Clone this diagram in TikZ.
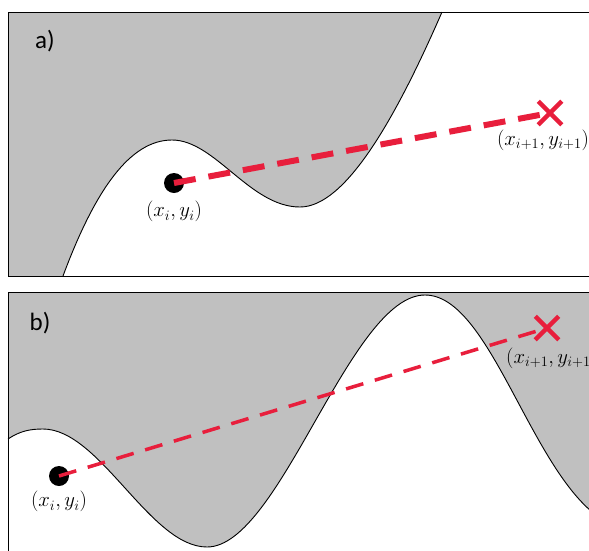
\documentclass[tikz,border=0pt]{standalone}
\usepackage{fontspec}
\newfontfamily\panelfont{Carlito}
\usetikzlibrary{shapes.misc,positioning}

\definecolor{trackred}{RGB}{232,30,60}
\definecolor{wallgray}{RGB}{192,192,192}

\begin{document}
\begin{tikzpicture}[
  x=1pt, y=-1pt,
  frame/.style={draw=black, line width=0.9pt},
  wall/.style={fill=wallgray},
  edge/.style={draw=black, line width=0.9pt},
  point/.style={circle, fill=black, minimum size=20pt, inner sep=0pt},
  target/.style={cross out, draw=trackred, line width=4.5pt, minimum size=19pt, inner sep=0pt},
  ray/.style={draw=trackred, line width=#1},
  coord/.style={font=\fontsize{20}{24}\selectfont, inner sep=1pt},
  tag/.style={font=\panelfont\fontsize{25}{29}\selectfont}
]
\useasboundingbox (0,0) rectangle (589,550);

% panel a)
\fill[white] (8,12) rectangle (600,276);
\fill[wall] (63,276) .. controls (95,190) and (130,140) .. (172,140)
  .. controls (215,140) and (250,207) .. (300,207)
  .. controls (345,207) and (395,120) .. (442,12)
  -- (8,12) -- (8,276) -- cycle;
\draw[edge] (63,276) .. controls (95,190) and (130,140) .. (172,140)
  .. controls (215,140) and (250,207) .. (300,207)
  .. controls (345,207) and (395,120) .. (442,12);
\draw[frame] (8,12) rectangle (600,276);
\node[tag] (taga) at (45,41) {a)};

\node[point] (pa) at (174,183) {};
\node[target] (qa) at (550,113) {};
\draw[ray=6pt, dash pattern=on 22pt off 13pt] (pa.center) -- (qa.center);
\node[coord, below=7pt of pa] (pla) {$(x_i,y_i)$};
\node[coord, below=4pt of qa, xshift=-7pt] (qla) {$(x_{i+1},y_{i+1})$};

% panel b)
\fill[white] (8,292) rectangle (600,560);
\fill[wall] (8,439) .. controls (20,431) and (30,429) .. (43,429)
  .. controls (100,429) and (150,547) .. (207,547)
  .. controls (280,547) and (350,295) .. (425,295)
  .. controls (490,295) and (530,470) .. (600,518)
  -- (600,292) -- (8,292) -- cycle;
\draw[edge] (8,439) .. controls (20,431) and (30,429) .. (43,429)
  .. controls (100,429) and (150,547) .. (207,547)
  .. controls (280,547) and (350,295) .. (425,295)
  .. controls (490,295) and (530,470) .. (600,518);
\draw[frame] (8,292) rectangle (600,560);
\node[tag] (tagb) at (40,323) {b)};

\node[point] (pb) at (59,476) {};
\node[target] (qb) at (547,328) {};
\draw[ray=3.5pt, dash pattern=on 18pt off 12pt] (pb.center) -- (qb.center);
\node[coord, below=4pt of pb] (plb) {$(x_i,y_i)$};
\node[coord, anchor=west] (qlb) at (505,358) {$(x_{i+1},y_{i+1})$};

\end{tikzpicture}
\end{document}
